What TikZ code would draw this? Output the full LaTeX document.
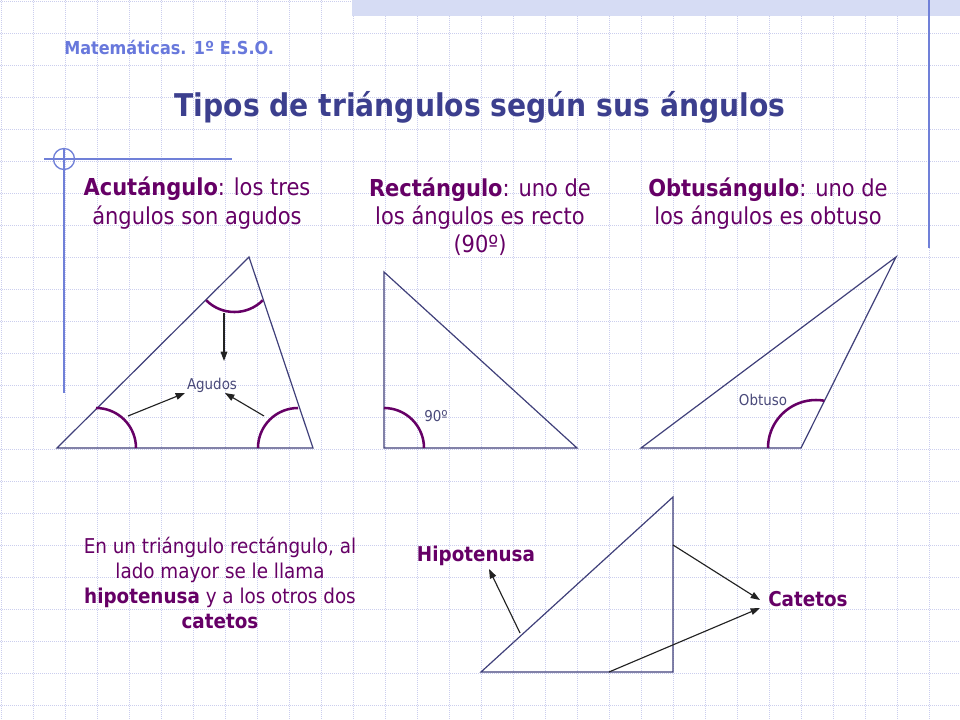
\documentclass[tikz,border=0pt]{standalone}
\usepackage{fontspec}
\setmainfont{DejaVu Sans Condensed}
\usetikzlibrary{arrows.meta}
\definecolor{gridc}{HTML}{CBCEEE}
\definecolor{bandc}{HTML}{D6DCF4}
\definecolor{accent}{HTML}{7080D8}
\definecolor{headc}{HTML}{6878DC}
\definecolor{titlec}{HTML}{3C3F8E}
\definecolor{purp}{HTML}{660066}
\definecolor{triline}{HTML}{40407A}
\definecolor{labc}{HTML}{4A4A7A}
\definecolor{arrc}{HTML}{222222}
\tikzset{
  gridl/.style={gridc, line width=0.6pt, dash pattern=on 0.75pt off 0.75pt},
  accentl/.style={accent, line width=1pt},
  tri/.style={triline, line width=0.9pt, line join=miter},
  anglearc/.style={purp, line width=1.9pt},
  pointer/.style={arrc, line width=0.85pt, -{Triangle[length=7pt,width=5pt]}},
  subhead/.style={purp, anchor=base, inner sep=0pt, font=\fontsize{17.5}{21}\selectfont},
  bodytxt/.style={purp, anchor=base, inner sep=0pt, font=\fontsize{15.3}{18}\selectfont},
  smalllab/.style={labc, anchor=base, inner sep=0pt, font=\fontsize{11.2}{13}\selectfont},
  boldlab/.style={purp, anchor=base, inner sep=0pt, font=\bfseries\fontsize{15.3}{18}\selectfont}
}
\begin{document}
\begin{tikzpicture}[x=0.75pt,y=-0.75pt]
\useasboundingbox (0,0) rectangle (960,720);
\fill[white] (0,0) rectangle (960,720);
% grid
\foreach \g in {1,33,...,961} \draw[gridl] (\g,0) -- (\g,720);
\foreach \g in {1,33,...,705} \draw[gridl] (0,\g) -- (960,\g);
% top band
\fill[bandc] (352,0) rectangle (960,16);
% accent lines
\draw[accentl] (929,0) -- (929,248);
\draw[accentl] (44,159) -- (232,159);
\draw[accentl] (64,148) -- (64,393);
\draw[accentl] (64,159) circle[radius=10.5];
% header and title
\node[headc, anchor=base west, inner sep=0pt, font=\bfseries\fontsize{13.4}{16}\selectfont] (hdr) at (64,55) {Matemáticas. 1º E.S.O.};
\node[titlec, anchor=base, inner sep=0pt, font=\bfseries\fontsize{23.5}{28}\selectfont] (title) at (480,117) {Tipos de triángulos según sus ángulos};
% subheadings
\node[subhead] (a1) at (197,196) {\textbf{Acutángulo}: los tres};
\node[subhead] (a2) at (197,225) {ángulos son agudos};
\node[subhead] (r1) at (480,197) {\textbf{Rectángulo}: uno de};
\node[subhead] (r2) at (480,225) {los ángulos es recto};
\node[subhead] (r3) at (480,253) {(90º)};
\node[subhead] (o1) at (768,197) {\textbf{Obtusángulo}: uno de};
\node[subhead] (o2) at (768,225) {los ángulos es obtuso};
% triangle 1 (acute)
\coordinate (A1) at (57,448);
\coordinate (B1) at (313,448);
\coordinate (C1) at (249,257);
\draw[tri] (A1) -- (B1) -- (C1) -- cycle;
\draw[anglearc] (96,408) arc[start angle=270,end angle=360,radius=40];
\draw[anglearc] (258,448) arc[start angle=180,end angle=270,radius=40];
\draw[anglearc] (206.2,300.3) arc[start angle=135,end angle=45,radius=40];
\node[smalllab] (agudos) at (212,389) {Agudos};
\coordinate (p1s) at (224,313); \coordinate (p1e) at (224,361);
\coordinate (p2s) at (128,416); \coordinate (p2e) at (185,393);
\coordinate (p3s) at (264,416); \coordinate (p3e) at (225,393);
\draw[pointer] (p1s) -- (p1e);
\draw[pointer] (p2s) -- (p2e);
\draw[pointer] (p3s) -- (p3e);
% triangle 2 (right)
\coordinate (A2) at (384,272);
\coordinate (B2) at (384,448);
\coordinate (C2) at (577,448);
\draw[tri] (A2) -- (B2) -- (C2) -- cycle;
\draw[anglearc] (384,408) arc[start angle=270,end angle=360,radius=40];
\node[smalllab] (noventa) at (436,421) {90º};
% triangle 3 (obtuse)
\coordinate (A3) at (641,448);
\coordinate (B3) at (801,448);
\coordinate (C3) at (896,257);
\draw[tri] (A3) -- (B3) -- (C3) -- cycle;
\draw[anglearc] (768,448) arc[start angle=180,end angle=280,radius=48];
\node[smalllab] (obtuso) at (763,405) {Obtuso};
% bottom text
\node[bodytxt] (b1) at (220,553) {En un triángulo rectángulo, al};
\node[bodytxt] (b2) at (220,578) {lado mayor se le llama};
\node[bodytxt] (b3) at (220,603) {\textbf{hipotenusa} y a los otros dos};
\node[bodytxt] (b4) at (220,628) {\textbf{catetos}};
% triangle 4
\coordinate (A4) at (481,672);
\coordinate (B4) at (673,672);
\coordinate (C4) at (673,497);
\draw[tri] (A4) -- (B4) -- (C4) -- cycle;
\node[boldlab] (hipo) at (476,561) {Hipotenusa};
\node[boldlab, anchor=base west] (cat) at (768,606) {Catetos};
\coordinate (h1s) at (520,633); \coordinate (h1e) at (489,569);
\coordinate (c1s) at (673,545); \coordinate (c1e) at (760,600);
\coordinate (c2s) at (609,672); \coordinate (c2e) at (760,608);
\draw[pointer] (h1s) -- (h1e);
\draw[pointer] (c1s) -- (c1e);
\draw[pointer] (c2s) -- (c2e);
\end{tikzpicture}
\end{document}
